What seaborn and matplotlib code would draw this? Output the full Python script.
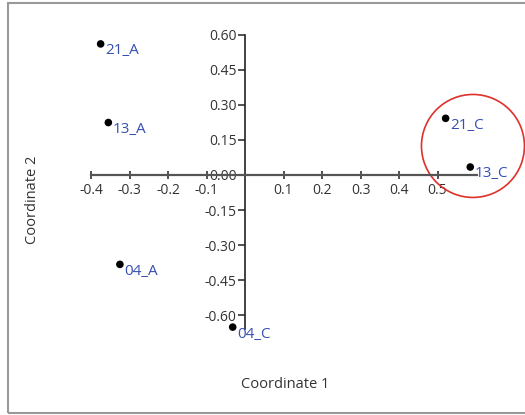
import pandas as pd
import matplotlib.pyplot as plt
import seaborn as sns
from matplotlib.patches import Ellipse, Rectangle


names = ['21_A', '13_A', '04_A', '04_C', '21_C', '13_C']
coord1 = [-0.375, -0.355, -0.325, -0.032, 0.521, 0.585]
coord2 = [0.560, 0.224, -0.382, -0.650, 0.242, 0.034]

x_ticks = [-0.4, -0.3, -0.2, -0.1, 0.1, 0.2, 0.3, 0.4, 0.5]
y_ticks = [-0.60, -0.45, -0.30, -0.15, 0.00, 0.15, 0.30, 0.45, 0.60]


def plot_graph():
    sns.set_style("white")
    plt.rcParams['font.family'] = ['Open Sans', 'DejaVu Sans']

    data = pd.DataFrame({'name': names, 'c1': coord1, 'c2': coord2})

    fig = plt.figure(figsize=(5.25, 4.15), dpi=100)
    ax = fig.add_axes([0.1587, 0.1836, 0.7627, 0.7557])

    sns.scatterplot(data=data, x='c1', y='c2', color='black', s=30,
                    edgecolor='none', ax=ax, legend=False)

    for _, row in data.iterrows():
        ax.annotate(row['name'], (row['c1'], row['c2']), xytext=(3, -5),
                    textcoords='offset points', ha='left', va='center',
                    color='#3650b0', fontsize=11)

    ax.set_xlim(-0.42, 0.62)
    ax.set_ylim(-0.70, 0.64)

    # axes cross at the origin
    ax.spines['left'].set_position(('data', 0))
    ax.spines['bottom'].set_position(('data', 0))
    ax.spines['top'].set_visible(False)
    ax.spines['right'].set_visible(False)
    ax.spines['left'].set_bounds(-0.656, 0.60)
    ax.spines['bottom'].set_bounds(-0.4, 0.603)
    ax.spines['left'].set_color('#222222')
    ax.spines['bottom'].set_color('#555555')
    ax.spines['left'].set_linewidth(1.2)
    ax.spines['bottom'].set_linewidth(1.6)

    ax.set_xticks(x_ticks)
    ax.set_xticklabels([f'{v:.1f}' for v in x_ticks])
    ax.set_yticks(y_ticks)
    ax.set_yticklabels([f'{v:.2f}' for v in y_ticks])
    ax.tick_params(axis='x', bottom=True, direction='inout', length=6,
                   width=1.2, pad=3, labelsize=10, colors='#333333')
    ax.tick_params(axis='y', left=True, direction='out', length=5,
                   width=1.2, pad=1, labelsize=10, colors='#333333')
    ax.set_xlabel('')
    ax.set_ylabel('')

    fig.text(285 / 525, 1 - 384 / 415, 'Coordinate 1', ha='center',
             va='center', fontsize=10.5, color='#333333')
    fig.text(33 / 525, 1 - 200 / 415, 'Coordinate 2', ha='center',
             va='center', rotation=90, fontsize=10.5, color='#333333')

    ax.add_patch(Ellipse((0.592, 0.124), 0.2675, 0.44, fill=False,
                         edgecolor='#e0302a', linewidth=1.2, clip_on=False))

    fig.patches.append(Rectangle((8 / 525, 2 / 415), 1.1, 410 / 415,
                                 transform=fig.transFigure, fill=False,
                                 edgecolor='#999999', linewidth=1.5))

    plt.savefig('out.png', dpi=100)
    plt.close()


if __name__ == '__main__':
    plot_graph()
